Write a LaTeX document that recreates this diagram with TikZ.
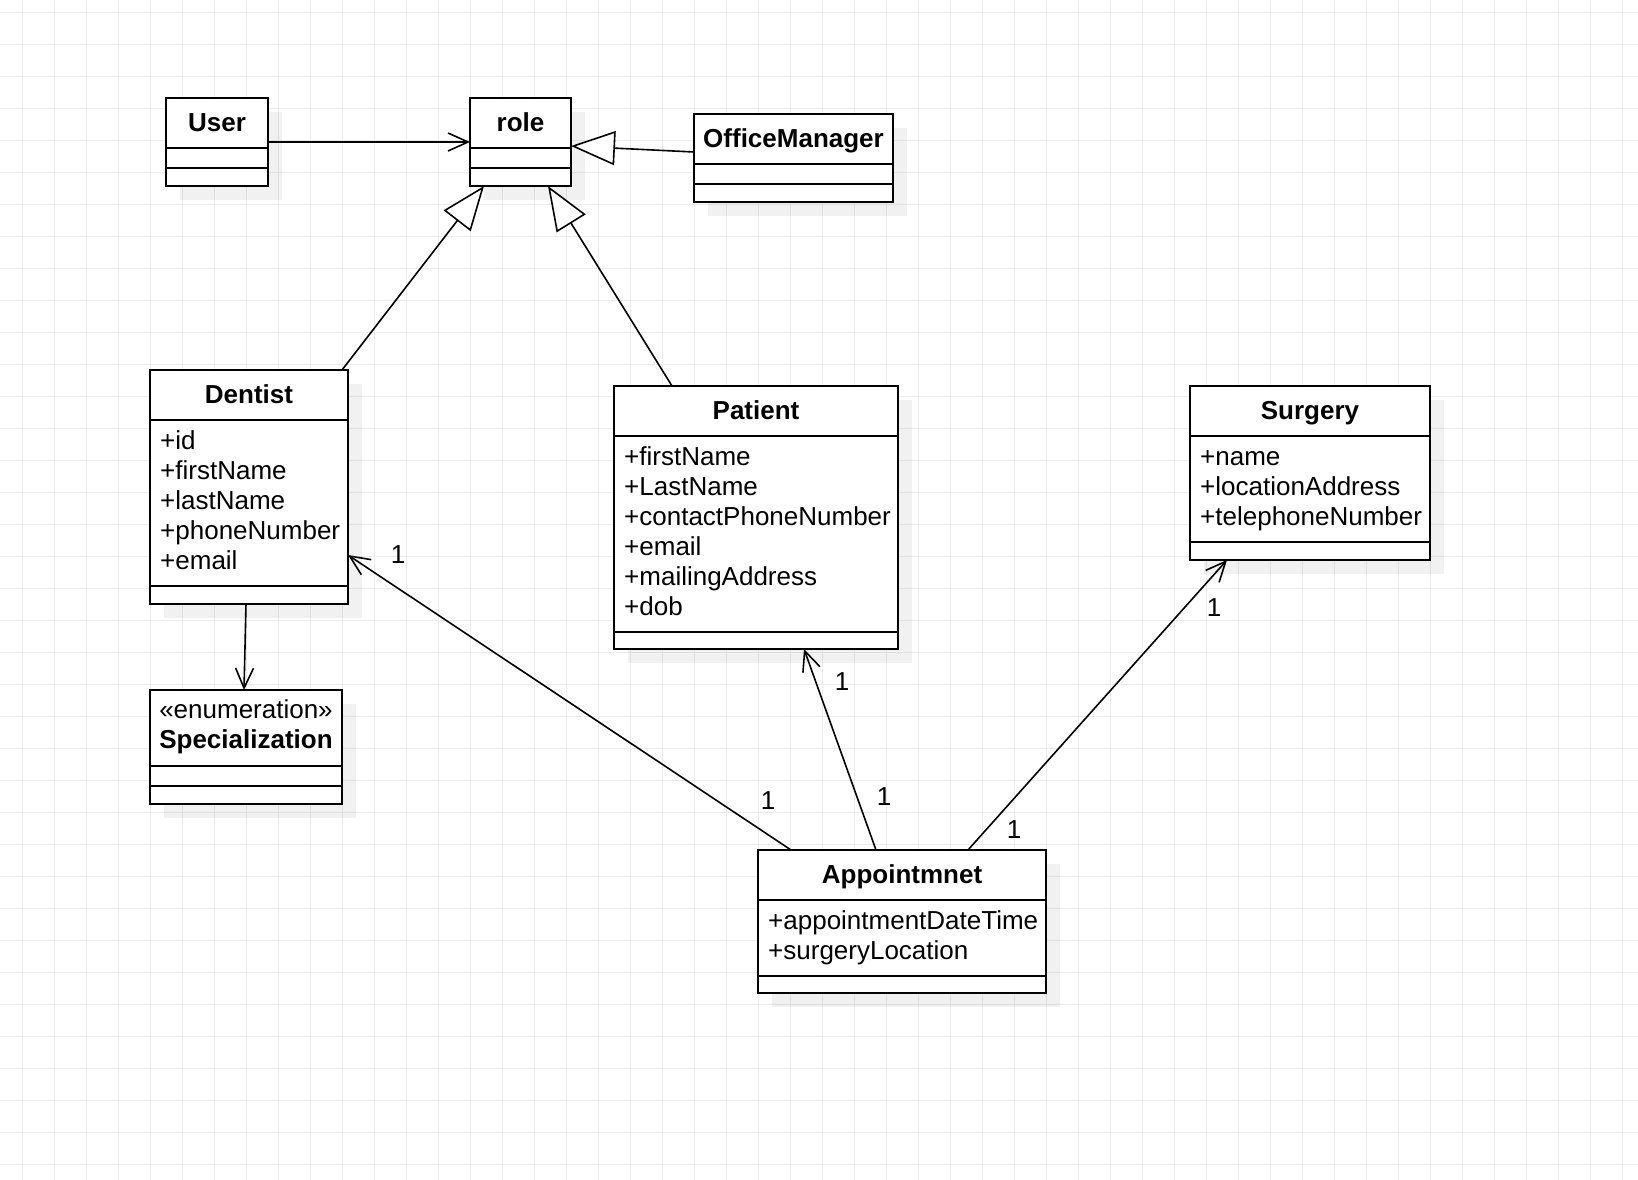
\documentclass[tikz,border=0pt]{standalone}
\usepackage{fontspec}
\setmainfont{Liberation Sans}
\usetikzlibrary{arrows.meta,shadows}
\definecolor{gridc}{HTML}{EBEBEB}
\tikzset{
  classbox/.style={draw=black, line width=2pt, fill=white, anchor=north west, inner sep=0pt, outer sep=0pt,
     general shadow={shadow xshift=14pt, shadow yshift=-14pt, fill=black, opacity=0.055}},
  divider/.style={line width=2pt},
  hdr/.style={font=\fontsize{26}{30}\selectfont\bfseries, anchor=base, inner sep=0pt},
  stereo/.style={font=\fontsize{26}{30}\selectfont, anchor=base, inner sep=0pt},
  attr/.style={font=\fontsize{26}{30}\selectfont, anchor=base west, inner sep=0pt},
  lbl/.style={font=\fontsize{26}{30}\selectfont, inner sep=0pt},
  assoc/.style={line width=1.6pt, -{Straight Barb[length=20pt, width=18pt, line width=1.6pt]}},
  gen/.style={line width=1.6pt, -{Triangle[length=44pt, width=34pt, fill=white, line width=1.6pt]}},
  gridline/.style={draw=gridc, line width=1.2pt}
}
\begin{document}
\begin{tikzpicture}[x=1pt, y=-1pt]
\fill[white] (0,0) rectangle (1638,1180);
\useasboundingbox (0,0) rectangle (1638,1180);
\foreach \i in {0,...,50} \draw[gridline] ({22.3+32*\i},0) -- ({22.3+32*\i},1180);
\foreach \j in {0,...,36} \draw[gridline] (0,{12.3+32*\j}) -- (1638,{12.3+32*\j});

% ---------- User ----------
\node[classbox, minimum width=102pt, minimum height=88pt] (user) at (166,98) {};
\draw[divider] ([yshift=-50pt]user.north west) -- ([yshift=-50pt]user.north east);
\draw[divider] ([yshift=-70pt]user.north west) -- ([yshift=-70pt]user.north east);
\node[hdr] (userT) at ([yshift=-33.5pt]user.north) {User};

% ---------- role ----------
\node[classbox, minimum width=101pt, minimum height=88pt] (role) at (470,98) {};
\draw[divider] ([yshift=-50pt]role.north west) -- ([yshift=-50pt]role.north east);
\draw[divider] ([yshift=-70pt]role.north west) -- ([yshift=-70pt]role.north east);
\node[hdr] (roleT) at ([yshift=-33.5pt]role.north) {role};

% ---------- OfficeManager ----------
\node[classbox, minimum width=199pt, minimum height=88pt] (om) at (694,114) {};
\draw[divider] ([yshift=-50pt]om.north west) -- ([yshift=-50pt]om.north east);
\draw[divider] ([yshift=-70pt]om.north west) -- ([yshift=-70pt]om.north east);
\node[hdr] (omT) at ([yshift=-33.5pt]om.north) {OfficeManager};

% ---------- Dentist ----------
\node[classbox, minimum width=198pt, minimum height=234pt] (dentist) at (150,370) {};
\draw[divider] ([yshift=-50pt]dentist.north west) -- ([yshift=-50pt]dentist.north east);
\draw[divider] ([yshift=-216pt]dentist.north west) -- ([yshift=-216pt]dentist.north east);
\node[hdr] (dentistT) at ([yshift=-33.5pt]dentist.north) {Dentist};
\node[attr] (d1) at ([xshift=10pt, yshift=-79pt]dentist.north west) {+id};
\node[attr] (d2) at ([xshift=10pt, yshift=-109pt]dentist.north west) {+firstName};
\node[attr] (d3) at ([xshift=10pt, yshift=-139pt]dentist.north west) {+lastName};
\node[attr] (d4) at ([xshift=10pt, yshift=-169pt]dentist.north west) {+phoneNumber};
\node[attr] (d5) at ([xshift=10pt, yshift=-199pt]dentist.north west) {+email};

% ---------- Patient ----------
\node[classbox, minimum width=284pt, minimum height=263pt] (patient) at (614,386) {};
\draw[divider] ([yshift=-50pt]patient.north west) -- ([yshift=-50pt]patient.north east);
\draw[divider] ([yshift=-246pt]patient.north west) -- ([yshift=-246pt]patient.north east);
\node[hdr] (patientT) at ([yshift=-33.5pt]patient.north) {Patient};
\node[attr] (p1) at ([xshift=10pt, yshift=-79pt]patient.north west) {+firstName};
\node[attr] (p2) at ([xshift=10pt, yshift=-109pt]patient.north west) {+LastName};
\node[attr] (p3) at ([xshift=10pt, yshift=-139pt]patient.north west) {+contactPhoneNumber};
\node[attr] (p4) at ([xshift=10pt, yshift=-169pt]patient.north west) {+email};
\node[attr] (p5) at ([xshift=10pt, yshift=-199pt]patient.north west) {+mailingAddress};
\node[attr] (p6) at ([xshift=10pt, yshift=-229pt]patient.north west) {+dob};

% ---------- Surgery ----------
\node[classbox, minimum width=240pt, minimum height=174pt] (surgery) at (1190,386) {};
\draw[divider] ([yshift=-50pt]surgery.north west) -- ([yshift=-50pt]surgery.north east);
\draw[divider] ([yshift=-156pt]surgery.north west) -- ([yshift=-156pt]surgery.north east);
\node[hdr] (surgeryT) at ([yshift=-33.5pt]surgery.north) {Surgery};
\node[attr] (s1) at ([xshift=10pt, yshift=-79pt]surgery.north west) {+name};
\node[attr] (s2) at ([xshift=10pt, yshift=-109pt]surgery.north west) {+locationAddress};
\node[attr] (s3) at ([xshift=10pt, yshift=-139pt]surgery.north west) {+telephoneNumber};

% ---------- Appointmnet ----------
\node[classbox, minimum width=288pt, minimum height=143pt] (appt) at (758,850) {};
\draw[divider] ([yshift=-50pt]appt.north west) -- ([yshift=-50pt]appt.north east);
\draw[divider] ([yshift=-126pt]appt.north west) -- ([yshift=-126pt]appt.north east);
\node[hdr] (apptT) at ([yshift=-33.5pt]appt.north) {Appointmnet};
\node[attr] (a1) at ([xshift=10pt, yshift=-79pt]appt.north west) {+appointmentDateTime};
\node[attr] (a2) at ([xshift=10pt, yshift=-109pt]appt.north west) {+surgeryLocation};

% ---------- Specialization ----------
\node[classbox, minimum width=192pt, minimum height=114pt] (spec) at (150,690) {};
\draw[divider] ([yshift=-76pt]spec.north west) -- ([yshift=-76pt]spec.north east);
\draw[divider] ([yshift=-96pt]spec.north west) -- ([yshift=-96pt]spec.north east);
\node[stereo] (specS) at ([yshift=-28.3pt]spec.north) {«enumeration»};
\node[hdr] (specT) at ([yshift=-58.3pt]spec.north) {Specialization};

% ---------- connectors ----------
\draw[assoc] (user.east) -- (role.west);
\draw[gen] ([yshift=6pt]om.west) -- ([yshift=-4pt]role.east);
\draw[gen] ([xshift=192pt]dentist.north west) -- ([xshift=14pt]role.south west);
\draw[gen] ([xshift=58pt]patient.north west) -- ([xshift=78pt]role.south west);
\draw[assoc] ([xshift=96pt]dentist.south west) -- ([xshift=94pt]spec.north west);
\draw[assoc] ([xshift=33pt]appt.north west) -- ([yshift=-185pt]dentist.north east);
\draw[assoc] ([xshift=118pt]appt.north west) -- ([xshift=190pt]patient.south west);
\draw[assoc] ([xshift=210pt]appt.north west) -- ([xshift=37pt]surgery.south west);

% ---------- multiplicities ----------
\node[lbl] (m1) at (398,555) {1};
\node[lbl] (m2) at (768,801) {1};
\node[lbl] (m3) at (842,682) {1};
\node[lbl] (m4) at (884,797) {1};
\node[lbl] (m5) at (1214,608) {1};
\node[lbl] (m6) at (1014,830) {1};
\end{tikzpicture}
\end{document}
